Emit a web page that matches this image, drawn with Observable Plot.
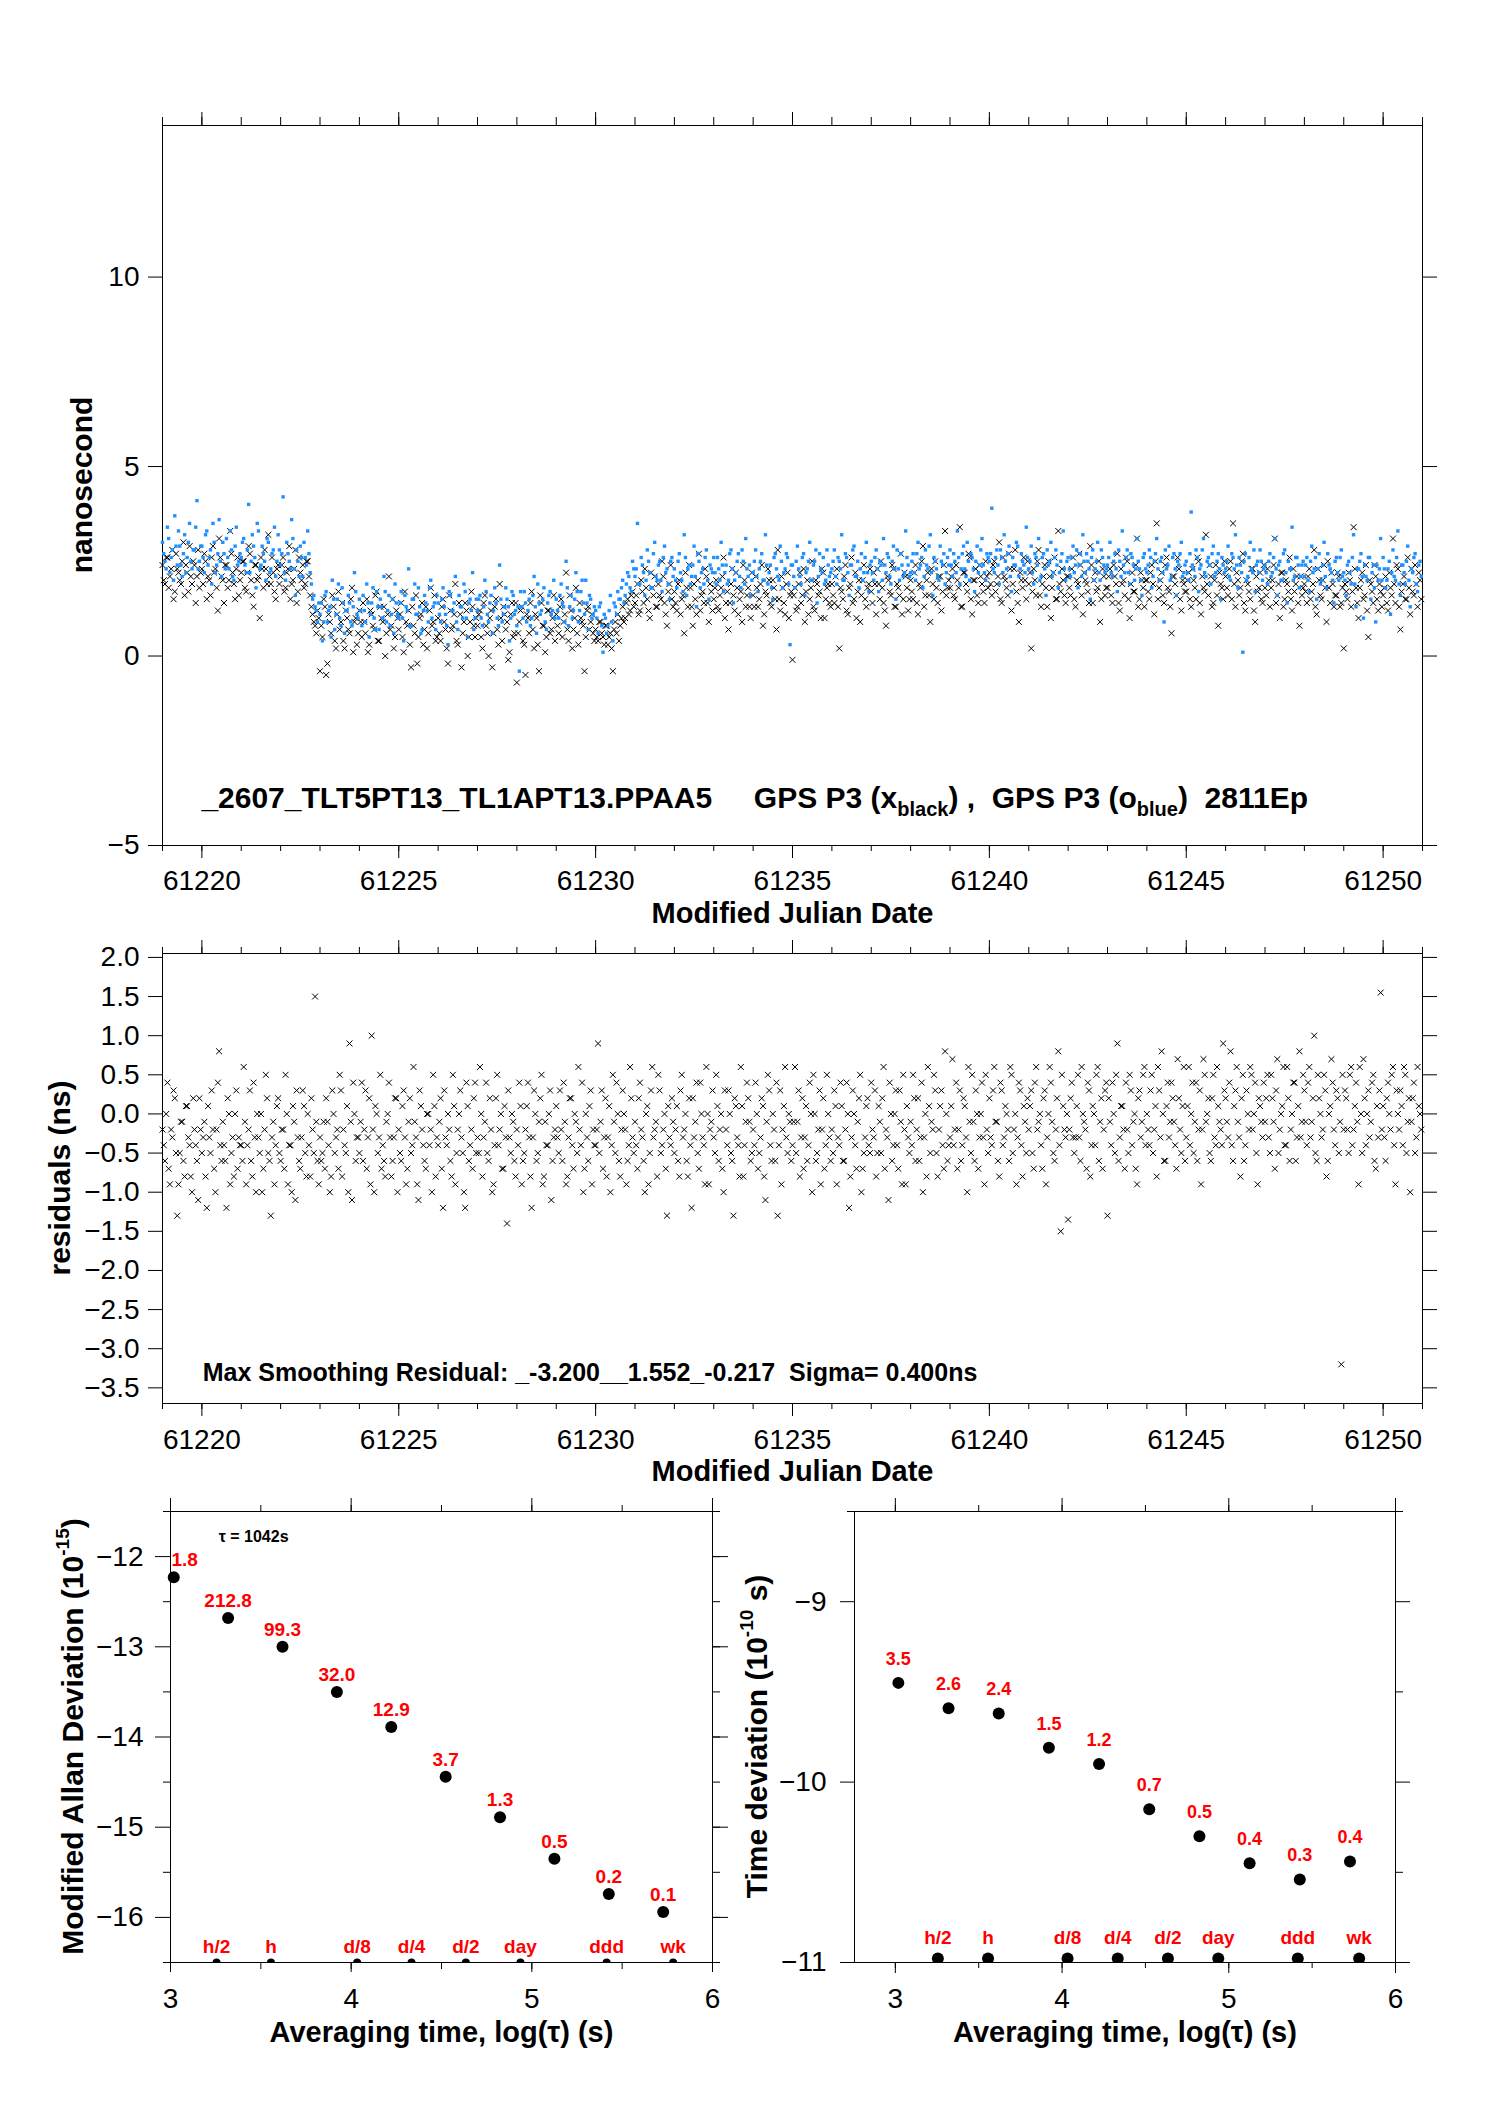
<!DOCTYPE html>
<html>
<head>
<meta charset="utf-8">
<script src="https://cdn.jsdelivr.net/npm/d3@7"></script>
<script src="https://cdn.jsdelivr.net/npm/@observablehq/plot@0.6"></script>
<style>
  body { margin: 0; background: #fff; }
  #page { position: relative; width: 1488px; height: 2105px; background: #fff; }
  #page text { white-space: pre; }
</style>
</head>
<body>
<div id="page"></div>
<script>
// ---- data ----
const mjdStart = 61219;
const perDay = 16;   // samples per day in each array; the "2" arrays sit half a step later

const gpsBlack = [
  2.4,1.9,2.6,2.1,2.8,1.7,2.3,2.0,2.5,1.6,2.2,2.9,1.9,2.4,2.1,1.8,
  2.3,2.7,1.5,2.0,2.6,2.2,1.8,3.1,2.1,1.4,2.4,2.0,2.7,1.9,2.3,1.6,
  2.2,2.5,1.7,2.9,2.0,1.3,2.4,2.1,2.6,1.8,2.3,3.2,1.9,2.2,1.5,2.4,
  2.1,2.6,1.8,2.3,1.5,2.0,2.8,1.7,2.2,2.4,1.9,2.5,1.6,1.1,0.8,1.2,
  -0.4,0.5,1.3,-0.2,0.9,1.6,0.4,1.1,0.7,1.4,0.2,1.0,0.6,1.8,0.9,0.3,
  1.2,0.5,0.9,1.5,0.3,1.1,0.7,1.7,0.4,1.0,1.3,0.6,2.1,0.8,0.2,1.2,
  0.7,1.4,0.1,0.9,1.2,-0.3,0.8,1.6,0.5,1.1,0.3,1.3,0.6,1.8,0.9,0.4,
  1.0,0.4,1.5,0.7,-0.2,1.2,0.8,1.9,0.3,1.1,0.6,1.4,0.0,0.9,1.3,0.5,
  0.8,1.2,0.2,1.6,0.6,1.0,-0.3,1.3,0.7,1.9,0.4,1.1,0.9,0.1,1.4,0.6,
  -0.7,0.9,1.3,0.3,1.1,0.6,1.7,0.2,1.0,-0.4,1.4,0.8,0.5,1.2,0.7,1.6,
  1.1,0.6,1.5,0.9,2.2,0.4,1.2,0.7,1.8,0.3,1.0,0.8,0.5,1.3,0.9,0.6,
  0.7,0.4,0.9,0.5,0.8,0.3,0.6,-0.4,0.9,1.1,0.8,1.3,1.0,1.5,1.2,1.7,
  1.4,1.9,1.2,1.7,2.3,1.5,1.0,1.8,2.1,1.3,1.6,2.5,1.4,0.8,1.9,1.5,
  1.7,1.2,2.0,1.5,0.6,1.8,2.4,1.3,1.9,1.1,2.7,1.6,1.4,2.1,0.9,1.7,
  1.5,2.0,1.2,1.8,2.6,1.4,0.7,1.9,1.6,2.2,1.1,1.7,2.4,1.3,1.8,1.0,
  1.6,2.1,1.3,1.9,0.8,1.7,2.3,1.4,2.0,1.5,2.8,1.2,1.8,1.1,2.2,1.6,
  -0.1,1.8,1.3,2.2,1.6,0.9,2.0,1.5,2.5,1.2,1.9,1.7,2.3,1.0,1.8,1.4,
  1.9,1.4,2.3,0.2,1.7,2.1,1.2,1.8,2.6,1.5,1.0,2.0,1.6,2.4,1.3,1.9,
  1.7,2.2,1.1,1.9,2.5,1.4,0.8,2.0,1.6,2.3,1.3,1.8,2.7,1.5,2.1,1.2,
  2.0,1.5,2.4,1.1,1.8,2.9,1.6,2.2,0.9,1.9,2.5,1.4,2.1,1.7,3.3,1.8,
  1.8,2.3,1.5,2.0,3.4,1.3,2.2,1.7,2.6,1.1,2.0,1.6,2.4,1.9,1.4,2.1,
  2.2,1.6,2.5,1.9,3.0,1.4,2.1,1.8,2.7,1.2,2.3,1.7,0.9,2.0,2.6,1.5,
  1.9,0.2,2.3,1.6,2.8,1.3,2.1,1.8,2.5,1.0,2.2,1.5,3.3,1.7,2.0,1.4,
  2.1,1.6,2.6,1.3,1.9,2.4,1.1,2.0,1.7,2.9,1.4,2.2,1.8,0.9,2.3,1.6,
  1.8,2.3,1.4,2.1,2.7,1.2,1.9,1.6,2.5,1.0,2.2,1.7,3.1,1.5,2.0,1.3,
  2.0,1.5,2.4,1.1,3.5,1.8,2.2,1.4,2.6,1.7,0.6,2.1,1.6,2.3,1.2,1.9,
  1.7,2.2,1.3,2.0,1.5,2.5,1.1,1.8,3.2,1.6,2.1,1.4,2.4,0.8,1.9,1.5,
  2.1,1.6,2.5,3.5,1.3,2.0,1.8,2.7,1.2,1.9,1.5,2.3,0.9,1.7,2.2,1.4,
  1.8,2.3,1.3,2.0,3.1,1.6,1.0,2.2,1.5,1.9,2.6,1.2,1.7,2.1,0.8,1.6,
  1.9,1.4,2.3,1.7,2.8,1.1,2.0,1.5,2.4,0.9,1.8,2.2,1.3,1.6,2.1,1.4,
  0.2,1.7,2.2,1.3,3.4,1.8,1.0,2.0,1.5,2.4,0.5,1.9,1.4,2.1,1.2,1.7,
  1.6,2.1,1.2,1.8,3.1,1.4,2.3,0.7,1.9,1.5,2.6,1.1,1.7,2.4,1.3,2.0
];

const gpsBlack2 = [
  2.0,2.6,1.8,2.3,1.5,2.7,2.2,1.9,3.0,2.4,1.7,2.1,2.5,1.4,2.8,2.2,
  1.9,2.5,2.1,1.6,2.9,2.3,1.2,2.6,2.0,2.4,1.8,3.3,2.2,1.5,2.6,2.0,
  2.5,1.8,2.2,2.7,1.6,2.4,2.0,1.0,2.3,2.8,1.9,2.1,2.6,1.7,2.3,1.9,
  2.4,1.7,2.2,2.9,1.9,2.3,1.4,2.6,2.0,1.8,2.5,2.1,1.3,0.9,0.6,1.0,
  0.8,1.5,-0.5,1.1,0.6,1.3,0.2,1.7,0.9,0.4,1.2,0.7,1.5,0.1,1.0,0.6,
  0.9,1.4,0.6,0.1,1.2,0.8,1.6,0.4,1.3,0.9,0.0,1.1,0.7,1.5,0.5,1.0,
  1.1,0.5,1.7,0.8,0.3,1.3,0.6,-0.2,1.0,1.4,0.7,0.2,1.2,0.8,1.6,0.5,
  0.6,1.3,0.9,0.2,1.6,0.7,1.1,0.4,1.4,-0.3,0.9,1.2,0.5,1.7,0.8,1.0,
  1.1,0.5,1.4,0.8,0.0,1.2,0.6,1.5,0.3,1.0,1.3,0.7,-0.1,1.1,0.5,1.4,
  0.6,1.2,0.4,-0.5,1.0,1.4,0.7,1.1,0.3,1.6,0.8,0.1,1.2,0.6,1.0,0.4,
  0.8,1.3,0.5,1.1,0.7,1.6,0.2,1.0,0.6,1.4,0.9,-0.4,1.2,0.7,1.1,0.4,
  0.5,0.9,0.6,0.3,0.8,0.5,0.2,0.7,0.6,0.4,1.0,0.9,1.4,1.1,1.6,1.3,
  1.6,1.1,2.0,1.4,1.8,1.2,2.2,1.6,1.3,1.9,1.5,2.1,1.1,1.7,2.4,1.3,
  1.4,1.9,1.1,1.6,2.2,1.3,1.8,0.8,1.5,2.0,1.2,1.7,2.3,1.4,1.9,1.2,
  1.8,1.3,1.6,2.1,1.0,1.7,1.4,2.3,1.2,1.8,1.5,0.9,2.0,1.6,1.3,2.2,
  1.3,1.8,1.5,2.4,1.1,1.6,2.0,1.3,1.8,0.7,1.5,2.1,1.4,1.9,1.0,1.7,
  1.6,1.2,1.9,1.4,2.3,1.7,1.1,1.8,1.3,2.0,1.6,1.0,2.2,1.5,1.9,1.3,
  1.6,2.1,1.3,1.8,1.5,2.4,1.1,1.9,1.4,2.2,1.7,0.9,2.0,1.5,1.8,2.3,
  1.4,1.9,2.3,1.5,1.8,1.2,2.1,1.7,2.4,1.3,1.9,1.6,1.1,2.2,1.8,1.5,
  1.7,2.2,1.4,1.9,2.5,1.3,2.0,1.6,2.3,1.5,1.8,2.1,1.2,2.4,1.6,2.0,
  2.1,1.6,2.4,1.8,1.3,2.2,1.9,2.7,1.5,2.0,2.3,1.4,2.1,1.7,2.5,1.8,
  1.9,2.4,1.7,2.1,1.5,2.6,2.0,1.6,2.3,1.9,2.8,1.4,2.2,1.8,2.0,2.5,
  2.2,1.7,2.0,2.5,1.6,1.9,2.4,1.3,2.1,1.8,2.6,1.5,1.9,2.3,1.6,2.1,
  1.8,2.3,1.5,2.0,2.7,1.6,2.2,1.9,1.4,2.4,2.0,1.7,2.5,1.5,2.1,1.8,
  2.1,1.6,2.4,1.9,1.4,2.3,2.0,2.6,1.5,1.9,1.7,2.4,1.3,2.2,1.8,2.0,
  1.7,2.2,1.9,2.5,1.5,2.0,1.6,2.4,1.8,1.3,2.1,1.9,2.6,1.5,2.0,1.7,
  2.0,1.5,2.3,1.8,2.6,1.4,2.1,1.7,1.9,2.4,1.3,2.0,1.6,2.2,1.8,2.5,
  1.8,2.3,1.5,1.9,2.2,1.6,2.5,1.4,2.0,1.7,2.3,1.2,2.1,1.8,1.5,2.4,
  1.6,2.0,1.8,2.4,1.4,1.9,2.2,1.3,2.0,1.7,1.5,2.3,1.9,1.4,2.1,1.8,
  1.7,2.1,1.5,1.9,1.3,2.3,1.6,2.0,1.8,2.5,1.4,1.9,1.6,2.2,1.3,1.8,
  1.9,1.5,2.0,1.7,2.3,1.4,1.8,2.2,1.6,1.2,2.0,1.7,2.4,1.5,1.9,1.3,
  1.8,1.4,2.2,1.6,1.9,2.4,1.3,1.7,2.1,1.5,1.8,2.3,1.6,1.9,2.2,1.5
];

const gpsBlue = [
  3.0,2.5,3.4,2.2,2.8,3.7,2.4,2.9,2.1,3.2,2.6,3.5,2.3,2.8,4.1,2.5,
  2.9,2.2,3.3,2.6,1.9,3.0,2.4,3.6,2.1,2.7,3.1,2.3,2.8,2.0,3.4,2.5,
  2.6,3.1,2.2,4.0,2.5,2.9,1.8,3.3,2.4,2.7,2.0,3.0,2.3,2.8,2.1,3.2,
  2.4,4.2,2.0,2.7,2.3,3.1,1.6,2.5,2.9,2.1,2.6,3.3,2.2,1.5,1.3,0.9,
  1.1,0.4,1.6,0.9,1.3,2.0,0.7,1.5,1.0,1.8,0.6,1.2,1.4,0.8,2.2,1.1,
  1.5,0.8,1.2,1.9,0.5,1.4,1.0,1.7,0.7,1.3,2.1,0.9,1.6,1.1,0.6,1.4,
  1.0,1.7,0.4,1.3,2.3,0.8,1.5,1.1,1.8,0.6,1.2,1.4,0.9,2.0,1.3,0.7,
  1.4,0.9,1.8,1.1,0.3,1.6,1.2,2.1,0.7,1.3,1.0,1.7,0.5,1.5,2.2,1.0,
  1.2,1.6,0.8,2.0,1.1,1.4,0.6,1.8,1.0,2.4,0.9,1.3,1.5,0.4,1.7,1.1,
  0.8,-0.4,1.3,1.7,0.9,1.5,1.0,2.1,0.6,1.4,1.2,1.8,0.7,1.6,1.1,2.0,
  1.5,1.0,1.9,1.3,2.5,0.8,1.6,1.2,2.2,0.9,1.7,1.4,2.0,0.7,1.5,1.1,
  1.2,0.6,1.4,0.1,1.0,0.8,1.6,0.4,1.3,1.7,1.5,2.0,1.6,2.2,1.8,2.5,
  2.1,3.5,1.9,2.4,1.6,2.8,2.2,1.8,3.0,2.0,2.5,1.7,2.9,2.3,1.5,2.6,
  2.3,1.8,2.7,2.0,3.2,1.6,2.4,2.1,2.9,1.3,2.5,2.2,1.9,2.8,1.5,2.3,
  2.6,1.9,2.3,3.0,1.7,2.4,2.0,2.8,1.4,2.2,2.7,1.8,2.5,3.1,2.1,1.6,
  2.2,2.8,1.7,2.5,2.0,3.2,1.9,2.4,1.5,2.7,2.1,2.9,1.8,2.3,2.6,0.3,
  2.4,1.8,2.9,2.1,2.6,1.6,2.3,3.0,2.0,2.5,1.4,2.7,2.2,1.9,2.8,2.1,
  2.3,2.8,1.9,2.5,3.2,2.0,2.6,1.6,2.4,2.9,2.1,1.8,2.7,2.2,3.0,1.7,
  2.5,2.0,2.8,1.7,2.4,3.1,2.2,2.6,1.9,2.9,1.5,2.3,2.7,2.1,3.3,2.4,
  2.2,2.7,2.0,3.0,2.4,1.8,2.8,2.3,3.2,1.6,2.5,2.1,2.9,2.4,1.9,2.6,
  2.8,2.1,2.5,3.3,1.9,2.7,2.3,3.0,2.0,2.6,1.7,2.9,2.4,3.1,2.2,2.7,
  2.5,3.9,2.2,2.8,1.9,2.6,3.2,2.3,2.9,1.7,2.4,3.0,2.1,2.7,2.4,3.4,
  2.3,2.9,1.9,2.6,3.1,2.1,2.7,1.6,2.4,3.0,2.2,2.8,1.8,2.5,3.3,2.0,
  2.6,2.1,2.9,2.4,1.8,2.7,3.2,2.2,2.5,1.5,2.8,2.3,3.0,2.0,2.6,2.2,
  2.4,3.0,2.1,2.7,1.7,2.5,3.3,2.2,2.8,1.9,2.6,2.0,3.1,2.3,1.6,2.7,
  2.2,2.8,1.8,2.5,3.1,2.0,2.6,0.9,2.3,2.9,2.1,2.7,1.6,2.4,3.0,2.2,
  2.5,2.0,3.8,2.3,2.8,1.7,2.4,3.1,2.1,2.6,1.9,2.9,2.2,2.7,1.5,2.4,
  2.3,2.9,2.0,2.6,3.2,1.8,2.4,0.1,2.7,2.1,3.0,2.2,1.7,2.5,2.8,2.0,
  2.4,1.9,2.7,2.2,3.1,1.6,2.5,2.0,2.8,1.4,2.3,3.4,2.1,2.6,1.8,2.4,
  2.1,2.6,1.7,2.9,2.3,1.5,2.7,2.0,3.0,1.8,2.4,2.2,1.4,2.6,2.0,2.8,
  2.2,1.6,2.5,1.9,3.2,1.3,2.3,2.7,1.0,2.1,2.6,1.5,2.4,0.9,2.0,3.1,
  2.6,1.8,2.3,1.1,2.8,2.0,3.3,1.6,2.4,1.9,2.9,1.3,2.2,2.7,1.7,2.5
];

const gpsBlue2 = [
  2.7,2.3,3.1,2.6,2.0,2.9,3.3,2.4,2.7,2.2,3.0,2.5,2.8,3.4,2.3,2.9,
  2.6,3.2,2.4,2.8,3.5,2.2,2.7,2.5,3.0,2.3,2.6,3.3,2.1,2.9,2.4,2.7,
  3.0,2.4,2.8,2.2,3.2,2.6,3.5,2.3,2.9,2.5,3.1,2.2,2.7,3.4,2.5,2.8,
  2.7,2.2,3.0,2.5,3.6,2.3,2.8,2.1,2.6,3.0,2.4,2.7,1.9,1.6,1.2,1.4,
  1.4,0.9,1.7,1.2,0.5,1.5,1.1,1.9,0.8,1.4,1.2,1.6,0.9,1.3,1.7,1.0,
  1.2,1.6,0.9,1.4,1.1,1.8,0.7,1.3,1.5,1.0,1.7,1.2,0.8,1.5,1.9,1.1,
  1.4,1.0,1.6,1.2,0.8,1.5,1.9,1.1,1.3,0.7,1.6,1.2,1.8,1.0,1.4,1.6,
  1.1,1.5,1.3,0.8,1.7,1.2,1.4,0.9,1.6,1.3,1.9,1.0,1.4,1.2,0.7,1.5,
  1.5,1.0,1.3,1.7,0.9,1.6,1.2,1.4,0.8,1.5,1.1,1.8,1.3,1.0,1.6,1.2,
  1.3,1.7,1.0,1.4,1.2,0.8,1.6,1.3,1.9,1.1,1.5,0.9,1.4,1.7,1.2,1.0,
  1.2,1.6,1.4,0.9,1.8,1.3,1.0,1.5,1.7,1.2,2.0,1.1,1.4,1.6,1.0,1.3,
  1.0,1.3,0.8,1.1,0.6,1.2,0.9,1.4,1.1,1.5,1.8,1.4,1.9,2.1,1.7,2.3,
  2.3,1.9,2.6,2.2,2.0,2.5,1.8,2.7,2.1,2.4,2.0,2.6,2.2,1.9,2.5,2.1,
  2.0,2.5,2.2,1.7,2.6,2.3,1.9,2.4,2.1,2.7,1.8,2.3,2.6,2.0,2.4,2.2,
  2.2,2.6,2.0,2.4,2.2,1.9,2.7,2.3,2.0,2.5,2.1,2.8,1.9,2.3,2.4,2.0,
  2.5,2.1,2.3,2.7,2.0,2.4,2.2,1.8,2.6,2.3,2.0,2.5,2.2,2.7,1.9,2.4,
  2.1,2.5,2.3,1.9,2.7,2.2,2.5,2.0,2.4,2.8,2.1,2.3,2.6,2.0,2.4,2.2,
  2.5,2.1,2.6,2.3,2.0,2.7,2.2,2.4,2.8,2.1,2.5,2.3,2.0,2.6,2.2,2.4,
  2.2,2.6,2.3,2.5,2.0,2.4,2.7,2.1,2.5,2.3,2.8,2.0,2.4,2.2,2.6,2.1,
  2.5,2.2,2.7,2.3,2.6,2.1,2.4,2.9,2.2,2.6,2.3,2.0,2.5,2.7,2.2,2.4,
  2.4,2.7,2.2,2.6,2.3,2.9,2.1,2.5,2.7,2.3,2.5,2.2,2.8,2.4,2.0,2.6,
  2.7,2.3,2.6,2.4,2.8,2.2,2.5,2.7,2.1,2.6,2.4,2.9,2.3,2.5,2.2,2.6,
  2.5,2.2,2.7,2.4,2.0,2.6,2.3,2.8,2.5,2.1,2.6,2.4,2.2,2.7,2.3,2.5,
  2.3,2.6,2.2,2.8,2.4,2.1,2.5,2.7,2.3,2.6,2.0,2.5,2.2,2.8,2.4,2.3,
  2.6,2.2,2.5,2.3,2.8,2.1,2.4,2.6,2.2,2.7,2.4,2.3,2.5,2.0,2.6,2.3,
  2.4,2.6,2.1,2.7,2.3,2.5,2.2,2.8,2.4,2.0,2.6,2.3,2.5,2.7,2.1,2.4,
  2.2,2.7,2.4,2.1,2.6,2.3,2.8,2.2,2.5,2.4,2.7,2.1,2.5,2.3,2.6,2.2,
  2.5,2.1,2.7,2.3,2.4,2.6,2.2,2.5,2.0,2.6,2.3,2.8,2.4,2.2,2.5,2.3,
  2.2,2.5,2.1,2.6,2.3,2.4,2.0,2.7,2.2,2.5,2.3,2.0,2.6,2.4,2.1,2.5,
  2.4,2.0,2.5,2.2,2.6,2.3,1.9,2.4,2.1,2.7,2.3,2.0,2.5,2.2,2.6,2.1,
  2.0,2.4,2.2,2.6,1.9,2.3,2.5,2.1,2.4,2.0,2.6,2.2,1.8,2.4,2.3,2.0,
  2.3,2.0,2.5,2.2,2.1,2.6,1.9,2.4,2.2,2.5,2.0,2.3,2.6,1.9,2.4,2.1
];

const residuals = [
  -0.2,-0.6,0.4,-0.9,-0.3,0.2,-1.3,-0.5,-0.1,-0.8,0.1,-0.4,-1.0,-0.2,-0.6,0.2,
  -0.5,-0.1,-1.2,-0.3,0.3,-0.7,-0.2,0.8,-0.6,-0.4,-1.2,0.0,-0.5,-0.8,0.3,-0.3,
  -0.4,0.6,-0.9,-0.2,-0.6,0.4,-1.0,-0.3,0.0,-0.7,0.5,-0.5,-1.3,-0.1,-0.4,0.2,
  -0.6,-0.2,0.5,-0.9,-0.4,0.1,-1.1,-0.3,-0.7,0.3,-0.5,0.0,-0.8,-0.2,1.5,-0.6,
  -0.3,-0.5,-0.7,-0.1,-1.0,0.3,-0.5,-0.2,0.5,-0.8,-0.4,0.1,0.9,-1.1,0.0,-0.3,
  -0.5,0.4,-0.2,-0.7,0.2,1.0,-1.0,0.0,-0.3,-0.7,-0.6,-0.1,0.4,-0.8,-0.3,0.2,
  -0.2,-0.6,0.3,-0.9,-0.1,-0.5,0.6,-0.3,-1.1,0.1,-0.4,-0.7,0.0,-0.2,0.5,-0.8,
  -0.4,0.2,-1.2,-0.3,0.0,-0.6,0.5,-0.9,-0.2,0.3,-0.5,-1.2,0.1,-0.4,-0.7,0.4,
  -0.3,0.6,-0.8,-0.1,-0.5,0.2,-1.0,-0.4,0.5,-0.2,-0.7,0.1,-1.4,-0.3,0.0,-0.6,
  -0.2,0.4,-0.9,-0.5,0.1,-0.3,-1.2,0.3,-0.6,-0.1,0.5,-0.8,-0.4,0.0,-1.1,-0.3,
  0.1,-0.5,-0.2,0.4,-0.9,-0.3,0.2,-0.7,-0.1,0.6,-0.4,-1.0,0.0,-0.6,0.3,-0.2,
  -0.4,0.9,-0.1,-0.7,0.2,-0.3,-1.0,0.5,-0.5,0.0,-0.8,0.3,-0.2,-0.6,0.6,-0.3,
  -0.1,-0.7,0.4,-0.3,-1.0,0.1,-0.5,0.6,-0.2,-0.8,0.3,-0.4,0.0,-1.3,-0.3,0.2,
  -0.5,0.1,-0.8,0.5,-0.2,-0.6,0.2,-1.2,-0.3,0.4,-0.7,0.0,-0.4,0.6,-0.9,-0.1,
  -0.3,0.5,-0.6,0.0,-1.0,-0.2,0.3,-0.5,-1.3,0.1,-0.4,0.6,-0.8,-0.1,0.2,-0.6,
  -0.2,0.4,-0.7,-0.3,0.1,-1.1,0.5,-0.4,0.0,-0.6,-1.3,0.3,-0.2,0.6,-0.5,-0.1,
  -0.4,0.6,-0.1,-0.8,0.2,-0.3,-0.6,0.4,-1.0,0.0,-0.5,0.3,-0.2,-0.7,0.5,-0.3,
  -0.2,0.3,-0.9,-0.4,0.1,-0.6,0.4,-1.2,-0.3,0.0,-0.7,0.2,-1.0,-0.5,0.1,-0.4,
  0.4,-0.3,-0.8,0.1,-0.5,0.6,-0.2,-1.1,0.0,-0.4,0.3,-0.7,-0.1,0.5,-0.9,-0.3,
  -0.1,0.5,-0.6,0.2,-0.3,-1.0,0.0,0.6,-0.5,-0.2,0.3,-0.8,0.1,-0.4,0.8,-0.6,
  -0.3,0.7,-0.2,-0.7,0.3,-0.4,0.1,-1.0,-0.1,0.5,-0.6,0.0,-0.3,0.4,-0.9,-0.2,
  0.2,-0.4,0.6,-0.1,-0.8,0.3,-0.3,0.0,-0.6,0.5,-0.2,-0.9,0.4,-0.4,0.1,-0.5,
  -0.2,0.3,-0.7,0.6,-0.1,-0.4,0.2,-0.9,0.0,0.4,-0.5,-0.2,0.8,-1.5,0.1,-0.3,
  -1.35,0.2,-0.3,-0.3,0.5,-0.6,0.0,-0.2,0.4,-0.8,0.1,-0.4,0.6,-0.1,-0.7,0.3,
  -1.3,-0.1,0.4,-0.5,0.9,-0.3,0.1,-0.7,-0.2,0.5,-0.4,0.0,-0.9,0.3,-0.1,0.6,
  0.0,-0.4,0.5,-0.2,-0.8,0.3,0.8,-0.6,0.1,-0.3,0.4,-0.1,-0.7,0.2,-0.5,0.6,
  -0.3,0.6,0.0,-0.5,0.4,-0.2,-0.9,0.7,-0.1,0.2,-0.6,0.5,-0.4,0.1,-0.2,0.9,
  0.2,-0.3,0.8,-0.6,0.3,-0.1,-0.8,0.5,-0.4,0.0,0.6,-0.2,0.4,-0.9,0.1,-0.3,
  -0.1,0.5,-0.5,0.2,-0.7,0.7,-0.2,0.1,-0.4,0.6,-0.6,0.0,0.4,-0.3,0.8,-0.1,
  0.3,-0.4,0.6,-0.1,1.0,-0.6,0.2,-0.3,0.5,-0.8,0.0,0.7,-0.2,0.3,-0.5,-3.2,
  -0.2,0.2,-0.5,0.6,-0.2,0.4,-0.9,0.0,0.7,-0.4,0.3,-0.1,0.5,-0.7,-0.3,1.55,
  0.1,-0.6,0.4,-0.2,0.6,-0.9,0.0,0.3,-0.4,0.5,-0.1,-1.0,0.2,-0.5,0.6,0.0
];

const residuals2 = [
  -0.4,0.0,-0.7,-0.2,0.3,-0.5,-0.9,-0.1,-0.6,0.1,-0.3,-0.8,0.2,-0.4,-1.1,-0.2,
  -0.3,-0.8,0.1,-0.5,-0.2,-1.0,0.4,-0.4,-0.1,-0.6,0.2,-0.9,-0.3,0.0,-0.7,-0.4,
  -0.6,-0.1,-0.4,0.3,-0.8,-0.3,0.0,-0.5,-1.0,-0.2,0.2,-0.6,-0.3,-0.9,0.1,-0.5,
  -0.2,-0.7,0.0,-0.4,-1.0,-0.1,0.3,-0.6,-0.3,0.1,-0.8,-0.4,0.2,-0.5,-0.1,-0.9,
  -0.6,-0.1,0.2,-0.4,-0.8,0.0,-0.3,-0.7,0.3,-0.2,-0.5,-1.0,-0.1,0.4,-0.6,-0.3,
  -0.1,-0.6,0.3,-0.3,-0.9,-0.2,0.1,-0.5,0.5,-0.4,-0.8,0.0,-0.3,-0.6,0.2,-1.0,
  -0.5,0.1,-0.3,-0.7,0.2,-0.4,-0.1,-0.9,0.3,-0.2,-0.6,0.0,-0.4,-1.0,0.1,-0.3,
  -0.1,-0.7,0.3,-0.4,-0.2,-0.8,0.1,-0.5,0.0,-0.3,-1.0,0.4,-0.6,-0.2,0.2,-0.5,
  -0.5,0.0,-0.3,0.4,-0.6,-0.2,-0.9,0.2,-0.4,0.0,-0.7,-0.3,0.3,-0.5,-0.1,-0.8,
  -0.4,0.1,-0.6,-0.2,0.4,-0.8,-0.3,0.0,-0.5,0.2,-0.9,-0.1,-0.4,0.3,-0.6,-0.2,
  -0.3,0.3,-0.6,-0.1,-0.8,0.2,-0.4,0.0,-0.5,-0.2,0.4,-0.7,-0.3,0.1,-0.9,-0.4,
  -0.2,-0.5,0.3,-0.3,-0.8,0.1,-0.4,-0.1,0.4,-0.6,-0.2,0.0,-0.9,-0.4,0.2,-0.5,
  -0.4,0.2,-0.2,-0.6,0.0,-0.9,0.3,-0.3,-0.1,0.5,-0.5,-0.2,-0.7,0.1,-0.4,-0.1,
  -0.2,-0.6,0.3,-0.3,0.0,-0.8,-0.4,0.2,-0.1,-0.5,0.4,-0.3,-0.9,0.0,-0.2,0.3,
  -0.5,0.1,-0.2,-0.7,0.3,-0.4,0.0,-0.6,0.2,-0.3,-0.8,0.1,-0.4,0.4,-0.1,-0.5,
  -0.4,0.0,-0.5,0.2,-0.8,-0.1,0.3,-0.6,-0.2,0.4,-0.4,-0.9,0.1,-0.3,0.0,-0.6,
  -0.1,-0.5,0.3,-0.3,-0.7,0.1,-0.4,0.0,0.5,-0.6,-0.2,-0.9,0.2,-0.4,0.0,-0.6,
  -0.5,0.1,-0.3,0.4,-0.6,-0.2,0.0,-0.8,0.3,-0.4,-0.1,0.5,-0.7,-0.3,0.2,-0.5,
  -0.2,0.3,-0.5,-0.1,0.2,-0.7,-0.3,0.4,-0.6,0.0,-0.4,0.3,-0.9,-0.2,0.1,-0.5,
  -0.4,0.2,-0.2,-0.6,0.4,-0.3,-0.8,0.1,-0.1,0.5,-0.5,-0.2,0.3,-0.7,0.0,-0.4,
  0.1,-0.4,0.4,-0.2,-0.6,0.2,-0.3,0.6,-0.5,-0.1,0.3,-0.7,0.0,-0.3,0.5,-0.5,
  -0.3,0.3,-0.1,-0.6,0.4,-0.4,0.1,-0.2,0.6,-0.5,0.0,-0.3,0.3,-0.8,-0.1,0.2,
  0.1,-0.5,0.4,-0.2,0.0,-0.7,0.3,-0.3,0.6,-0.1,-0.6,0.2,-0.4,0.5,-0.2,0.0,
  -0.2,0.4,-0.5,0.1,-0.3,0.6,-0.1,-0.7,0.3,-0.4,0.0,0.5,-0.6,0.2,-0.2,0.4,
  0.2,-0.4,0.0,0.5,-0.6,0.1,-0.2,0.4,-0.5,0.3,-0.1,-0.7,0.2,-0.3,0.5,-0.4,
  -0.2,0.3,-0.5,0.1,0.6,-0.3,0.0,-0.6,0.4,-0.1,0.2,-0.4,0.7,-0.2,0.1,-0.6,
  0.1,-0.4,0.4,-0.1,-0.6,0.3,-0.2,0.5,0.0,-0.5,0.2,-0.3,0.6,-0.1,-0.4,0.3,
  -0.1,0.4,-0.4,0.1,0.6,-0.3,0.2,-0.6,0.3,-0.2,0.5,0.0,-0.5,0.2,-0.1,0.4,
  0.2,-0.3,0.5,-0.1,0.3,-0.5,0.0,0.6,-0.4,0.2,-0.2,0.4,-0.6,0.1,-0.3,0.5,
  -0.1,0.4,-0.3,0.2,-0.5,0.5,0.0,-0.2,0.3,-0.6,0.1,0.4,-0.4,0.2,-0.1,0.5,
  0.3,-0.2,0.5,-0.4,0.1,-0.1,0.6,-0.5,0.2,0.0,-0.3,0.4,-0.6,0.1,0.3,-0.2,
  -0.3,0.2,0.0,0.5,-0.4,0.3,-0.2,0.1,0.6,-0.5,0.2,-0.1,0.4,-0.3,0.1,-0.2
];

const mjdDomain = [61219, 61251];
const mjdLabelTicks = [61220, 61225, 61230, 61235, 61240, 61245, 61250];
const nsDomain = [-5, 14];
const nsTicks = [-5, 0, 5, 10];
const resDomain = [-3.7, 2.05];
const resTicks = [-3.5, -3, -2.5, -2, -1.5, -1, -0.5, 0, 0.5, 1, 1.5, 2];

// stability plots (log10 tau, log10 deviation)
const logTau = [3.018, 3.319, 3.62, 3.921, 4.222, 4.523, 4.824, 5.125, 5.426, 5.727];
const mdevLog = [-12.23, -12.68, -13.0, -13.5, -13.89, -14.44, -14.89, -15.35, -15.74, -15.94];
const mdevText = ["1.8", "212.8", "99.3", "32.0", "12.9", "3.7", "1.3", "0.5", "0.2", "0.1"];
const tdevLog = [-9.45, -9.59, -9.62, -9.81, -9.9, -10.15, -10.3, -10.45, -10.54, -10.44];
const tdevText = ["3.5", "2.6", "2.4", "1.5", "1.2", "0.7", "0.5", "0.4", "0.3", "0.4"];
const spanNames = ["h/2", "h", "d/8", "d/4", "d/2", "day", "ddd", "wk"];
const spanLog = [3.255, 3.556, 4.033, 4.334, 4.635, 4.937, 5.414, 5.782];
const mdevDomain = [-16.5, -11.5];
const tdevDomain = [-11, -8.5];

// ---- helpers ----
const page = document.getElementById("page");
const FONT = '"Liberation Sans", Arial, Helvetica, sans-serif';
const blank = () => "";

function series(values, shift = 0) {
  return values.map((v, i) => ({mjd: mjdStart + (i + shift) / perDay, v}));
}

function box(o) {
  // ticks on all four sides, all pointing out, like the original plotter
  return [
    Plot.axisX({anchor: "bottom", ticks: o.xMinor, tickSize: o.xBot[1], tickFormat: blank, label: null}),
    Plot.axisX({anchor: "bottom", ticks: o.xMajor, tickSize: o.xBot[0], tickPadding: o.xPad,
      tickFormat: o.xFormat, fontSize: 28, label: null}),
    Plot.axisX({anchor: "top", ticks: o.xMinor, tickSize: o.xTop[1], tickFormat: blank, label: null}),
    Plot.axisX({anchor: "top", ticks: o.xMajor, tickSize: o.xTop[0], tickFormat: blank, label: null}),
    Plot.axisY({anchor: "left", ticks: o.yMinorLeft || [], tickSize: 7, tickFormat: blank, label: null}),
    Plot.axisY({anchor: "left", ticks: o.yMajor, tickSize: o.yLen, tickPadding: o.yPad,
      tickFormat: o.yFormat, fontSize: 28, label: null}),
    Plot.axisY({anchor: "right", ticks: o.yMinor || [], tickSize: 7, tickFormat: blank, label: null}),
    Plot.axisY({anchor: "right", ticks: o.yMajor, tickSize: o.yLen, tickFormat: blank, label: null}),
    Plot.frame({stroke: "black"})
  ];
}

function styleAt(left, top) {
  return {position: "absolute", left: left + "px", top: top + "px", overflow: "visible",
    fontFamily: FONT, fontSize: "28px", color: "black", background: "transparent"};
}

function rotatedTitle(svg, cx, cy, main, sup, tail) {
  const t = d3.select(svg).append("text")
    .attr("transform", `translate(${cx},${cy}) rotate(-90)`)
    .attr("text-anchor", "middle").attr("dominant-baseline", "middle")
    .attr("font-weight", "bold").attr("font-size", 30).attr("fill", "black");
  t.append("tspan").text(main);
  if (sup) {
    t.append("tspan").attr("font-size", 19).attr("dy", -11).text(sup);
    t.append("tspan").attr("dy", 11).text(tail);
  }
}

// ---- top: time difference ----
const top1 = Plot.plot({
  width: 1488, height: 930,
  marginLeft: 162, marginRight: 66, marginTop: 125, marginBottom: 85,
  x: {domain: mjdDomain},
  y: {domain: nsDomain},
  style: styleAt(0, 0),
  marks: [
    ...box({xMajor: mjdLabelTicks, xMinor: d3.range(mjdDomain[0], mjdDomain[1] + 1),
      xBot: [13, 6], xTop: [14, 9], xPad: 12, xFormat: d => String(d),
      yMajor: nsTicks, yLen: 14, yPad: 9}),
    Plot.dot(series(gpsBlack).concat(series(gpsBlack2, 0.5)),
      {x: "mjd", y: "v", symbol: "times", r: 2.8, stroke: "black", strokeWidth: 1}),
    Plot.dot(series(gpsBlue).concat(series(gpsBlue2, 0.5)),
      {x: "mjd", y: "v", symbol: "square", r: 1.9, fill: "#1e90ff", stroke: "none"}),
    Plot.text(["Modified Julian Date"], {frameAnchor: "bottom", dy: 77, text: d => d,
      fontWeight: "bold", fontSize: 29})
  ]
});
page.appendChild(top1);
rotatedTitle(top1, 162 - 78, 125 + (930 - 125 - 85) / 2, "nanosecond");
{
  const sx = top1.scale("x"), sy = top1.scale("y");
  const t = d3.select(top1).append("text")
    .attr("x", sx.apply(61220)).attr("y", sy.apply(-4.03)).attr("text-anchor", "start")
    .attr("font-weight", "bold").attr("font-size", 30).attr("fill", "black");
  t.append("tspan").text("_2607_TLT5PT13_TL1APT13.PPAA5     GPS P3 (x");
  t.append("tspan").attr("font-size", 20).attr("dy", 8).text("black");
  t.append("tspan").attr("dy", -8).text(") ,  GPS P3 (o");
  t.append("tspan").attr("font-size", 20).attr("dy", 8).text("blue");
  t.append("tspan").attr("dy", -8).text(")  2811Ep");
}

// ---- middle: residuals ----
const mid = Plot.plot({
  width: 1488, height: 560,
  marginLeft: 162, marginRight: 66, marginTop: 23, marginBottom: 87,
  x: {domain: mjdDomain},
  y: {domain: resDomain},
  style: styleAt(0, 930),
  marks: [
    ...box({xMajor: mjdLabelTicks, xMinor: d3.range(mjdDomain[0], mjdDomain[1] + 1),
      xBot: [13, 6], xTop: [14, 7], xPad: 13, xFormat: d => String(d),
      yMajor: resTicks, yLen: 14, yPad: 9, yFormat: d3.format(".1f")}),
    Plot.dot(series(residuals).concat(series(residuals2, 0.5)),
      {x: "mjd", y: "v", symbol: "times", r: 2.8, stroke: "black", strokeWidth: 1}),
    Plot.text(["Max Smoothing Residual: _-3.200__1.552_-0.217  Sigma= 0.400ns"],
      {x: 61220.02, y: -3.31, text: d => d, textAnchor: "start", fontWeight: "bold", fontSize: 25}),
    Plot.text(["Modified Julian Date"], {frameAnchor: "bottom", dy: 77, text: d => d,
      fontWeight: "bold", fontSize: 29})
  ]
});
page.appendChild(mid);
rotatedTitle(mid, 162 - 100, 23 + (560 - 23 - 87) / 2, "residuals (ns)");

// ---- bottom: stability ----
const mdevRows = logTau.map((t, i) => ({t, v: mdevLog[i], label: mdevText[i]}));
const tdevRows = logTau.map((t, i) => ({t, v: tdevLog[i], label: tdevText[i]}));
const spanRows = spanLog.map((t, i) => ({t, name: spanNames[i]}));
const halfSteps = d3.range(3, 6.01, 0.5);

const left = Plot.plot({
  width: 744, height: 615,
  marginLeft: 170, marginRight: 32, marginTop: 21, marginBottom: 143,
  x: {domain: [3, 6]},
  y: {domain: mdevDomain},
  style: styleAt(0, 1490),
  marks: [
    ...box({xMajor: [3, 4, 5, 6], xMinor: halfSteps, xBot: [10, 7], xTop: [14, 7], xPad: 16,
      xFormat: d3.format("d"),
      yMajor: [-16, -15, -14, -13, -12], yMinor: d3.range(-16.5, -11.4, 0.5),
      yMinorLeft: d3.range(-16.5, -11.4, 1), yLen: 15, yPad: 12, yFormat: d3.format("d")}),
    Plot.dot(spanRows, {x: "t", y: () => mdevDomain[0], r: 4, fill: "black", clip: true}),
    Plot.text(spanRows, {x: "t", y: () => mdevDomain[0], dy: -16, text: "name",
      fill: "red", fontWeight: "bold", fontSize: 19}),
    Plot.dot(mdevRows, {x: "t", y: "v", r: 6, fill: "black"}),
    Plot.text(mdevRows.slice(1), {x: "t", y: "v", dy: -17, text: "label", fill: "red", fontWeight: "bold", fontSize: 19}),
    Plot.text(mdevRows.slice(0, 1), {x: 3, y: "v", dy: -17, dx: 1, textAnchor: "start", text: "label",
      fill: "red", fontWeight: "bold", fontSize: 19}),
    Plot.text(["\u03c4 = 1042s"], {x: 3.46, y: -11.78, text: d => d, fontWeight: "bold", fontSize: 16}),
    Plot.text(["Averaging time, log(\u03c4) (s)"], {frameAnchor: "bottom", dy: 79, text: d => d,
      fontWeight: "bold", fontSize: 29})
  ]
});
page.appendChild(left);
rotatedTitle(left, 170 - 95, 21 + (615 - 21 - 143) / 2, "Modified Allan Deviation (10", "-15", ")");

const right = Plot.plot({
  width: 744, height: 615,
  marginLeft: 110, marginRight: 93, marginTop: 21, marginBottom: 143,
  x: {domain: [2.755, 6]},
  y: {domain: tdevDomain},
  style: styleAt(744, 1490),
  marks: [
    ...box({xMajor: [3, 4, 5, 6], xMinor: halfSteps, xBot: [11, 6], xTop: [14, 7], xPad: 15,
      xFormat: d3.format("d"),
      yMajor: [-11, -10, -9], yMinor: [-10.5, -9.5, -8.5], yMinorLeft: [-8.5],
      yLen: 14, yPad: 14, yFormat: d3.format("d")}),
    Plot.dot(spanRows, {x: "t", y: () => tdevDomain[0], dy: -4, r: 6, fill: "black", clip: true}),
    Plot.text(spanRows, {x: "t", y: () => tdevDomain[0], dy: -25, text: "name",
      fill: "red", fontWeight: "bold", fontSize: 19}),
    Plot.dot(tdevRows, {x: "t", y: "v", r: 6, fill: "black"}),
    Plot.text(tdevRows, {x: "t", y: "v", dy: -24, text: "label", fill: "red", fontWeight: "bold", fontSize: 18}),
    Plot.text(["Averaging time, log(\u03c4) (s)"], {frameAnchor: "bottom", dy: 79, text: d => d,
      fontWeight: "bold", fontSize: 29})
  ]
});
page.appendChild(right);
rotatedTitle(right, 110 - 95, 21 + (615 - 21 - 143) / 2, "Time deviation (10", "-10", " s)");
</script>
</body>
</html>
